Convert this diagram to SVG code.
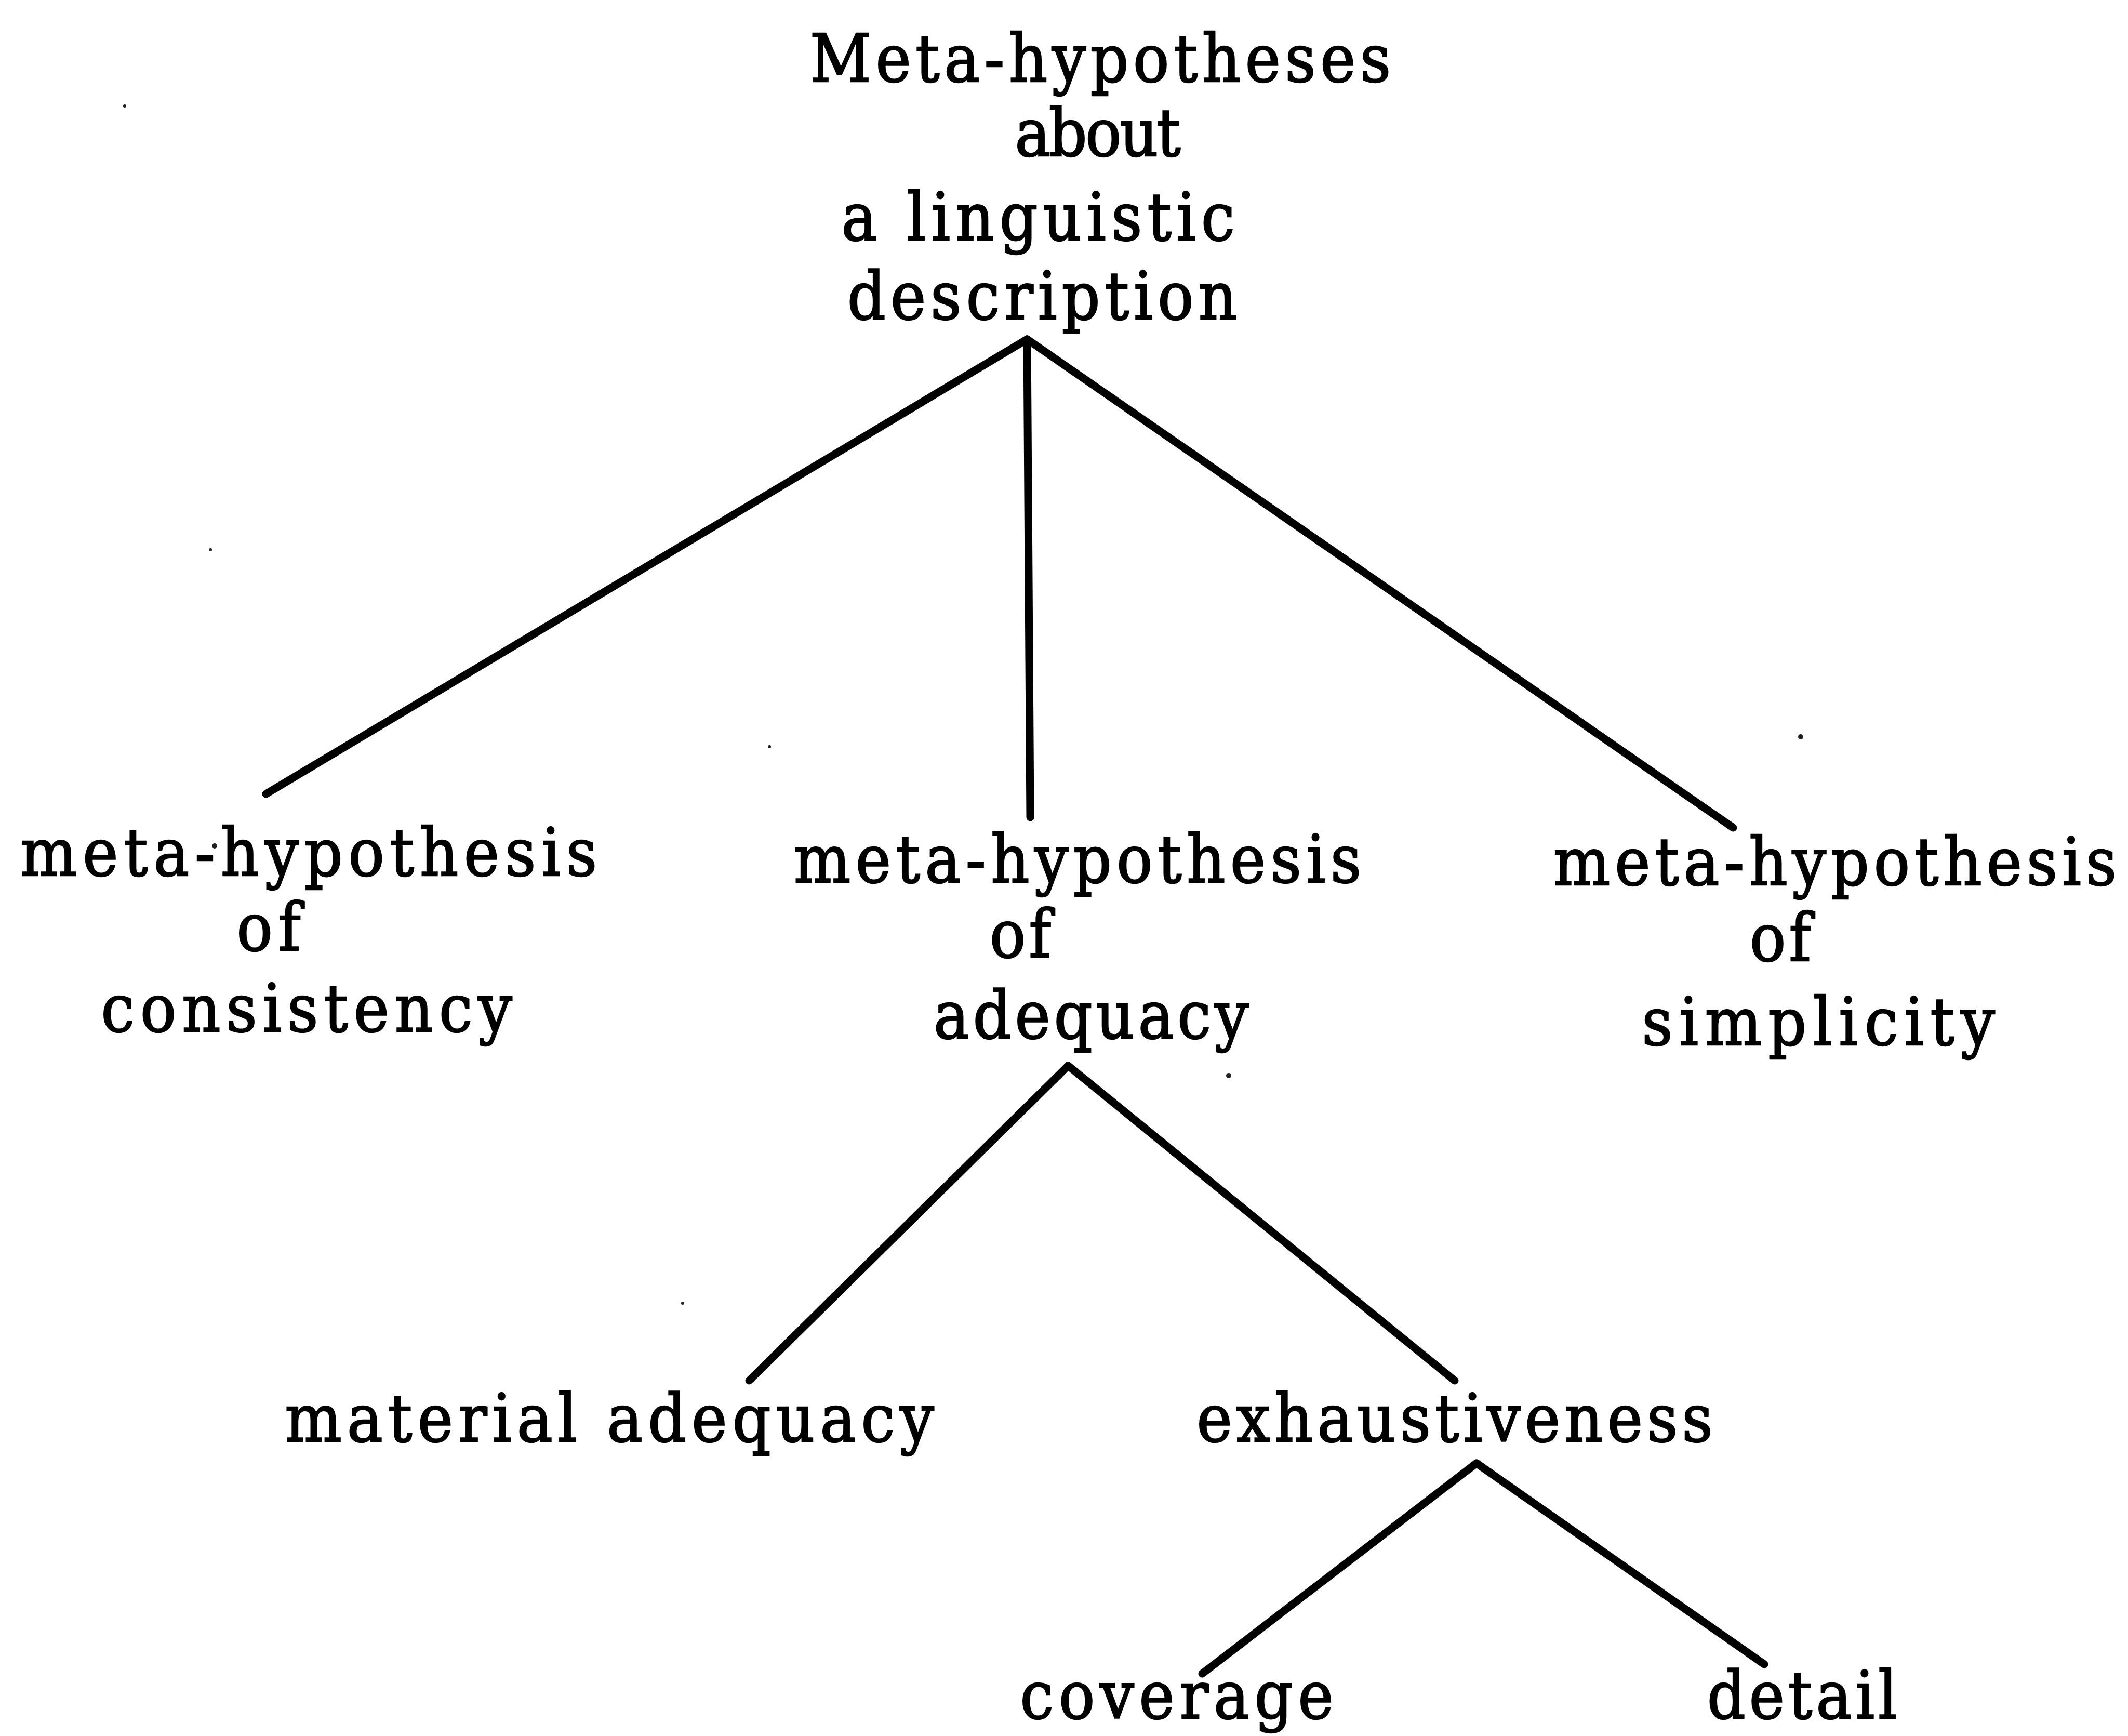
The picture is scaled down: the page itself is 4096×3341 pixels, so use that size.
<svg xmlns="http://www.w3.org/2000/svg" width="4096" height="3341" viewBox="0 0 4096 3341">
  <style>
    .lbl { font-family: "DejaVu Serif", "Liberation Serif", serif; font-stretch: condensed; font-size: 128px; fill: #000; stroke: #000; stroke-width: 2.5px; text-anchor: middle; }
    .edge { stroke: #000; stroke-width: 15; stroke-linecap: round; fill: none; }
    .speck { fill: #222; }
  </style>
  <rect width="4096" height="3341" fill="#ffffff"/>

  <!-- tree branches -->
  <g id="connectors">
    <path class="edge" d="M1977 653 L512 1528"/>
    <path class="edge" d="M1977 653 L1983 1573"/>
    <path class="edge" d="M1977 653 L3336 1593"/>
    <path class="edge" d="M2056 2051 L1442 2657"/>
    <path class="edge" d="M2056 2051 L2800 2657"/>
    <path class="edge" d="M2842 2816 L2314 3221"/>
    <path class="edge" d="M2842 2816 L3396 3203"/>
  </g>

  <g id="root">
    <text class="lbl" x="2118" y="157" textLength="1118" lengthAdjust="spacing">Meta-hypotheses</text>
    <text class="lbl" x="2113" y="300" textLength="319" lengthAdjust="spacing">about</text>
    <text class="lbl" x="1998" y="462" textLength="757" lengthAdjust="spacing">a linguistic</text>
    <text class="lbl" x="2006" y="614" textLength="750" lengthAdjust="spacing">description</text>
  </g>

  <g id="consistency">
    <text class="lbl" x="594" y="1685" textLength="1110" lengthAdjust="spacing">meta-hypothesis</text>
    <text class="lbl" x="517" y="1829" textLength="123" lengthAdjust="spacing">of</text>
    <text class="lbl" x="590" y="1985" textLength="791" lengthAdjust="spacing">consistency</text>
  </g>

  <g id="adequacy">
    <text class="lbl" x="2074" y="1698" textLength="1092" lengthAdjust="spacing">meta-hypothesis</text>
    <text class="lbl" x="1964" y="1842" textLength="118" lengthAdjust="spacing">of</text>
    <text class="lbl" x="2100" y="1998" textLength="606" lengthAdjust="spacing">adequacy</text>
  </g>

  <g id="simplicity">
    <text class="lbl" x="3532" y="1703" textLength="1084" lengthAdjust="spacing">meta-hypothesis</text>
    <text class="lbl" x="3427" y="1849" textLength="118" lengthAdjust="spacing">of</text>
    <text class="lbl" x="3500" y="2011" textLength="679" lengthAdjust="spacing">simplicity</text>
  </g>

  <g id="material-adequacy">
    <text class="lbl" x="1173" y="2774" textLength="1249" lengthAdjust="spacing">material adequacy</text>
  </g>

  <g id="exhaustiveness">
    <text class="lbl" x="2800" y="2774" textLength="993" lengthAdjust="spacing">exhaustiveness</text>
  </g>

  <g id="coverage">
    <text class="lbl" x="2265" y="3307" textLength="603" lengthAdjust="spacing">coverage</text>
  </g>

  <g id="detail">
    <text class="lbl" x="3469" y="3307" textLength="366" lengthAdjust="spacing">detail</text>
  </g>

  <!-- stray marks on the page -->
  <g id="specks">
    <circle class="speck" cx="240" cy="204" r="3"/>
    <circle class="speck" cx="405" cy="1058" r="3"/>
    <circle class="speck" cx="1481" cy="1437" r="3"/>
    <circle class="speck" cx="3466" cy="1418" r="5"/>
    <circle class="speck" cx="1314" cy="2508" r="3"/>
    <circle class="speck" cx="2365" cy="2070" r="5"/>
    <circle class="speck" cx="413" cy="1628" r="5"/>
  </g>
</svg>
